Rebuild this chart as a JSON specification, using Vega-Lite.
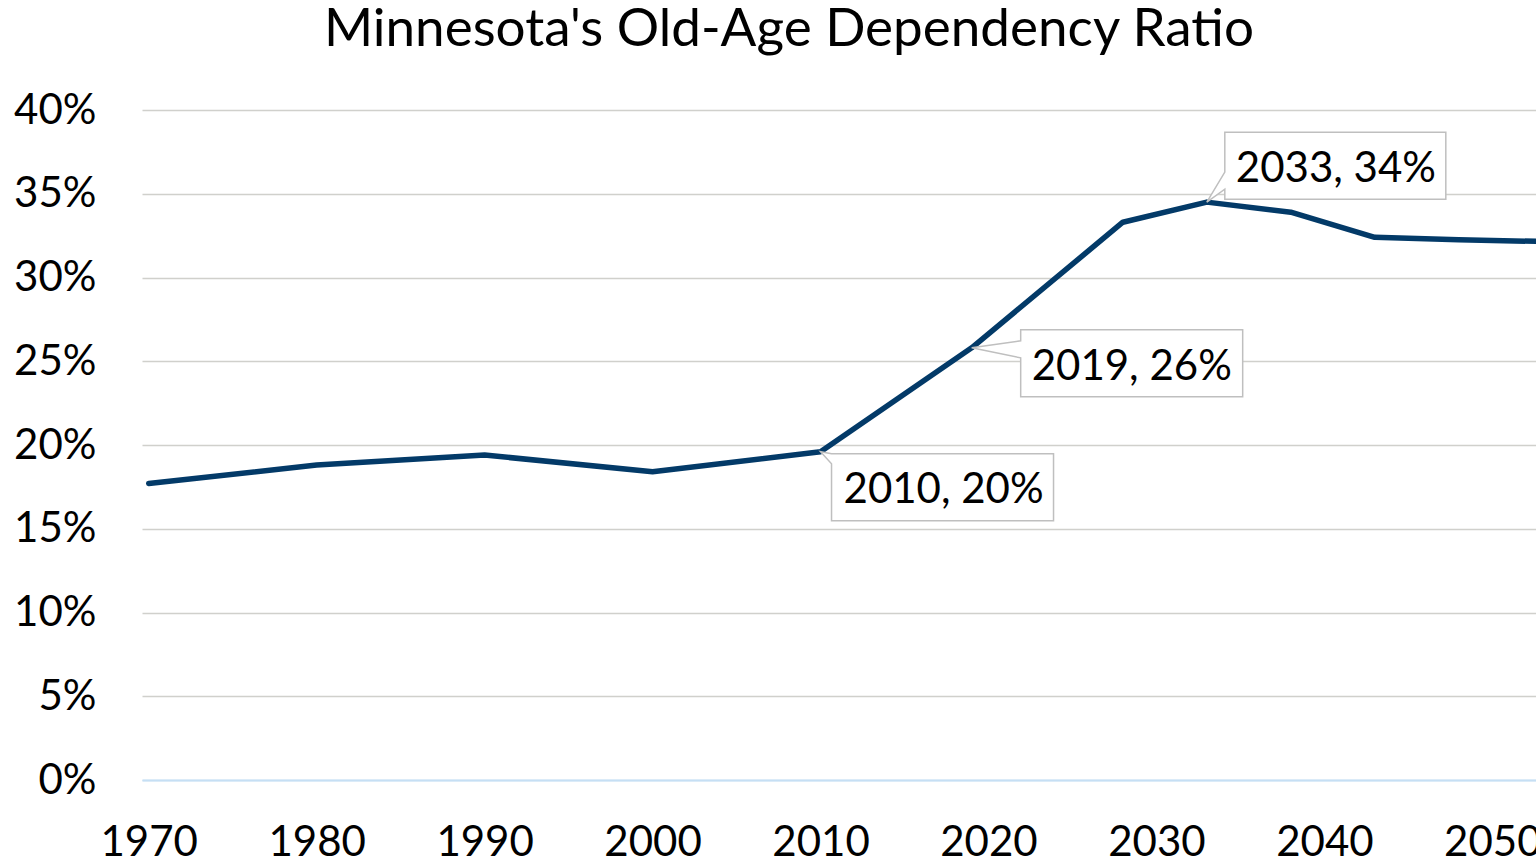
{
  "$schema": "https://vega.github.io/schema/vega-lite/v6.json",
  "autosize": {"type": "none"},
  "width": 1394,
  "height": 670,
  "padding": {"left": 142, "top": 110, "right": 0, "bottom": 82},
  "background": "white",
  "config": {"view": {"stroke": null}, "font": "Lato"},
  "title": {
    "text": "Minnesota's Old-Age Dependency Ratio",
    "font": "Lato",
    "fontSize": 53,
    "fontWeight": "normal",
    "color": "black",
    "anchor": "middle",
    "frame": "group",
    "dx": -50,
    "dy": 50,
    "baseline": "alphabetic",
    "offset": 40
  },
  "data": {
    "values": [
      {"year": 1970, "ratio": 0.177, "callout": ""},
      {"year": 1980, "ratio": 0.188, "callout": ""},
      {"year": 1990, "ratio": 0.194, "callout": ""},
      {"year": 2000, "ratio": 0.184, "callout": ""},
      {"year": 2010, "ratio": 0.196, "callout": "2010, 20%"},
      {"year": 2019, "ratio": 0.258, "callout": "2019, 26%"},
      {"year": 2028, "ratio": 0.333, "callout": ""},
      {"year": 2033, "ratio": 0.345, "callout": "2033, 34%"},
      {"year": 2038, "ratio": 0.339, "callout": ""},
      {"year": 2043, "ratio": 0.324, "callout": ""},
      {"year": 2048, "ratio": 0.3225, "callout": ""},
      {"year": 2053, "ratio": 0.3215, "callout": ""}
    ]
  },
  "encoding": {
    "x": {
      "field": "year",
      "type": "quantitative",
      "scale": {"domain": [1969.6, 2052.6], "nice": false, "zero": false},
      "axis": {
        "title": null,
        "values": [1970, 1980, 1990, 2000, 2010, 2020, 2030, 2040, 2050],
        "format": "d",
        "grid": false,
        "ticks": false,
        "domain": true,
        "domainColor": "#c6dff4",
        "domainWidth": 2,
        "labelFont": "Lato",
        "labelFontSize": 42,
        "labelColor": "black",
        "labelBaseline": "alphabetic",
        "labelPadding": 75,
        "labelFlush": false,
        "labelOverlap": false,
        "labelBound": false
      }
    },
    "y": {
      "field": "ratio",
      "type": "quantitative",
      "scale": {"domain": [0, 0.4], "nice": false},
      "axis": {
        "title": null,
        "values": [0, 0.05, 0.1, 0.15, 0.2, 0.25, 0.3, 0.35, 0.4],
        "format": ".0%",
        "grid": true,
        "gridColor": {"condition": {"test": "datum.value === 0", "value": "#c6dff4"}, "value": "#d0d0cc"},
        "gridWidth": 1.5,
        "ticks": false,
        "domain": false,
        "labelFont": "Lato",
        "labelFontSize": 42,
        "labelColor": "black",
        "labelPadding": 46,
        "labelOverlap": false,
        "labelBound": false
      }
    }
  },
  "layer": [
    {
      "mark": {"type": "line", "color": "#033a68", "strokeWidth": 5.5, "strokeCap": "round", "strokeJoin": "round", "clip": true}
    },
    {
      "transform": [{"filter": "datum.callout === '2010, 20%'"}],
      "layer": [
        {
          "mark": {"type": "point", "shape": "M0.11,0.02H2.33V0.69H0.11V0.12L0,0Z", "size": 40000, "filled": true, "fill": "white", "stroke": "#bfbfbf", "strokeWidth": 1.5, "opacity": 1}
        },
        {
          "mark": {"type": "text", "align": "left", "baseline": "alphabetic", "dx": 23, "dy": 51, "font": "Lato", "fontSize": 42, "color": "black"},
          "encoding": {"text": {"field": "callout"}}
        }
      ]
    },
    {
      "transform": [{"filter": "datum.callout === '2019, 26%'"}],
      "layer": [
        {
          "mark": {"type": "point", "shape": "M0.49,-0.18H2.71V0.49H0.49V0.10L0,0L0.49,-0.07Z", "size": 40000, "filled": true, "fill": "white", "stroke": "#bfbfbf", "strokeWidth": 1.5, "opacity": 1}
        },
        {
          "mark": {"type": "text", "align": "left", "baseline": "alphabetic", "dx": 60, "dy": 32, "font": "Lato", "fontSize": 42, "color": "black"},
          "encoding": {"text": {"field": "callout"}}
        }
      ]
    },
    {
      "transform": [{"filter": "datum.callout === '2033, 34%'"}],
      "layer": [
        {
          "mark": {"type": "point", "shape": "M0.18,-0.70H2.39V-0.03H0.18V-0.13L0,0L0.18,-0.30Z", "size": 40000, "filled": true, "fill": "white", "stroke": "#bfbfbf", "strokeWidth": 1.5, "opacity": 1}
        },
        {
          "mark": {"type": "text", "align": "left", "baseline": "alphabetic", "dx": 29, "dy": -20, "font": "Lato", "fontSize": 42, "color": "black"},
          "encoding": {"text": {"field": "callout"}}
        }
      ]
    }
  ]
}
